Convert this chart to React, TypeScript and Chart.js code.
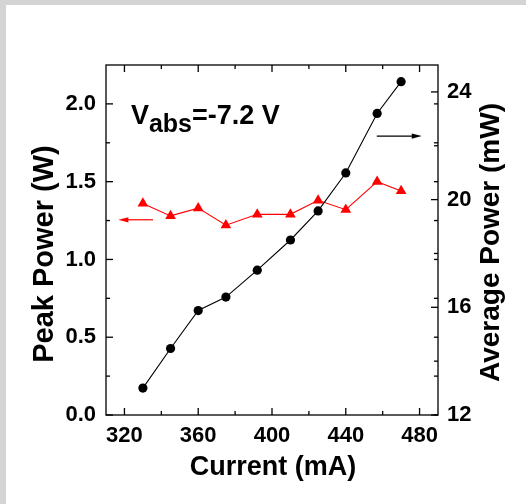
import React, { useEffect, useRef } from "react";
import { Chart, registerables } from "chart.js";

Chart.register(...registerables);

// Drive current (mA) shared by both series
const current = [330, 345, 360, 375, 392, 410, 425, 440, 457, 470];
// Peak power (W), left axis
const peakPower = [1.36, 1.28, 1.33, 1.22, 1.29, 1.29, 1.38, 1.32, 1.5, 1.44];
// Average power (mW), right axis
const averagePower = [13.0, 14.47, 15.88, 16.38, 17.38, 18.5, 19.58, 20.99, 23.2, 24.38];

// Labelled ticks and minor ticks
const currentTicks = [320, 360, 400, 440, 480];
const currentMinor = [340, 380, 420, 460];
const peakTicks = [0, 0.5, 1.0, 1.5, 2.0];
const peakMinor = [0.25, 0.75, 1.25, 1.75];
const averageTicks = [12, 16, 20, 24];
const averageMinor = [14, 18, 22];

// Arrows telling which axis each curve belongs to: [fromX, toX, level]
const peakArrow = [335.5, 316.7, 1.255];
const averageArrow = [456.8, 481.2, 22.36];
// Bias label anchor (current, peak power)
const biasLabelAt = [323.5, 1.872];

const FONT = '"Liberation Sans", Arial, Helvetica, sans-serif';

const decorations = {
  id: "decorations",
  afterDraw(chart: any) {
    const { ctx, chartArea: a, scales } = chart;
    const x = scales.x;
    const y = scales.y;
    const y2 = scales.y2;
    ctx.save();
    ctx.strokeStyle = "#000";
    ctx.lineWidth = 1.3;
    ctx.strokeRect(a.left, a.top, a.right - a.left, a.bottom - a.top);

    const seg = (x0: number, y0: number, x1: number, y1: number) => {
      ctx.beginPath();
      ctx.moveTo(x0, y0);
      ctx.lineTo(x1, y1);
      ctx.stroke();
    };
    // inward tick marks
    const MAJ = 7;
    const MIN = 4;
    currentTicks.forEach((v) => {
      const p = x.getPixelForValue(v);
      seg(p, a.bottom, p, a.bottom - MAJ);
      seg(p, a.top, p, a.top + MAJ);
    });
    currentMinor.forEach((v) => {
      const p = x.getPixelForValue(v);
      seg(p, a.bottom, p, a.bottom - MIN);
      seg(p, a.top, p, a.top + MIN);
    });
    peakTicks.forEach((v) => {
      const p = y.getPixelForValue(v);
      seg(a.left, p, a.left + MAJ, p);
      seg(a.right, p, a.right - MIN, p);
    });
    peakMinor.forEach((v) => {
      const p = y.getPixelForValue(v);
      seg(a.left, p, a.left + MIN, p);
      seg(a.right, p, a.right - MIN, p);
    });
    averageTicks.forEach((v) => {
      const p = y2.getPixelForValue(v);
      seg(a.right, p, a.right - MAJ, p);
    });
    averageMinor.forEach((v) => {
      const p = y2.getPixelForValue(v);
      seg(a.right, p, a.right - MIN, p);
    });

    // arrows
    const arrow = (x0: number, x1: number, py: number, color: string) => {
      ctx.strokeStyle = color;
      ctx.fillStyle = color;
      ctx.lineWidth = 1.2;
      const dir = Math.sign(x1 - x0);
      seg(x0, py, x1 - dir * 8, py);
      ctx.beginPath();
      ctx.moveTo(x1, py);
      ctx.lineTo(x1 - dir * 10, py - 2.6);
      ctx.lineTo(x1 - dir * 10, py + 2.6);
      ctx.closePath();
      ctx.fill();
    };
    arrow(
      x.getPixelForValue(peakArrow[0]),
      x.getPixelForValue(peakArrow[1]),
      y.getPixelForValue(peakArrow[2]),
      "#ff0000"
    );
    arrow(
      x.getPixelForValue(averageArrow[0]),
      x.getPixelForValue(averageArrow[1]),
      y2.getPixelForValue(averageArrow[2]),
      "#000000"
    );

    // bias label V_abs=-7.2 V
    ctx.fillStyle = "#000";
    ctx.textBaseline = "alphabetic";
    ctx.textAlign = "left";
    let tx = x.getPixelForValue(biasLabelAt[0]);
    const ty = y.getPixelForValue(biasLabelAt[1]);
    ctx.font = `bold 27px ${FONT}`;
    ctx.fillText("V", tx, ty);
    tx += ctx.measureText("V").width;
    ctx.font = `bold 25px ${FONT}`;
    ctx.fillText("abs", tx, ty + 8);
    tx += ctx.measureText("abs").width;
    ctx.font = `bold 27px ${FONT}`;
    ctx.fillText("=-7.2 V", tx, ty);

    // axis titles
    ctx.textAlign = "center";
    ctx.font = `bold 27px ${FONT}`;
    ctx.fillText("Current (mA)", (a.left + a.right) / 2 + 1, 475);

    ctx.save();
    ctx.translate(53, 254);
    ctx.rotate(-Math.PI / 2);
    ctx.font = `bold 29px ${FONT}`;
    ctx.fillText("Peak Power (W)", 0, 0);
    ctx.restore();

    ctx.save();
    ctx.translate(499, 242.5);
    ctx.rotate(-Math.PI / 2);
    ctx.font = `bold 28px ${FONT}`;
    ctx.fillText("Average Power (mW)", 0, 0);
    ctx.restore();

    ctx.restore();
  },
};

export default function App() {
  const ref = useRef<HTMLCanvasElement>(null);

  useEffect(() => {
    document.body.style.margin = "0";
    const canvas = ref.current!;
    const tickFont = { family: FONT, size: 22, weight: "bold" as const };
    const chart = new Chart(canvas, {
      type: "line",
      data: {
        datasets: [
          {
            label: "Average Power",
            data: current.map((c, i) => ({ x: c, y: averagePower[i] })),
            yAxisID: "y2",
            borderColor: "#000000",
            backgroundColor: "#000000",
            borderWidth: 1.1,
            pointStyle: "circle",
            pointRadius: 4.6,
            pointBorderWidth: 0,
            tension: 0,
          },
          {
            label: "Peak Power",
            data: current.map((c, i) => ({ x: c, y: peakPower[i] })),
            yAxisID: "y",
            borderColor: "#ff0000",
            backgroundColor: "#ff0000",
            borderWidth: 1.1,
            pointStyle: "triangle",
            pointRadius: 6.2,
            pointBorderWidth: 0,
            tension: 0,
          },
        ],
      },
      options: {
        animation: false,
        responsive: false,
        events: [],
        layout: { padding: { top: 65, left: 0, right: 0, bottom: 0 } },
        plugins: {
          legend: { display: false },
          tooltip: { enabled: false },
        },
        scales: {
          x: {
            type: "linear",
            min: 310,
            max: 490,
            grid: { display: false, drawTicks: false },
            border: { display: false },
            afterFit: (s: any) => {
              s.height = 89;
            },
            afterBuildTicks: (s: any) => {
              s.ticks = currentTicks.map((v) => ({ value: v }));
            },
            ticks: {
              font: tickFont,
              color: "#000",
              padding: 8,
              maxRotation: 0,
              callback: (v: any) => String(v),
            },
          },
          y: {
            type: "linear",
            position: "left",
            min: 0,
            max: 2.25,
            grid: { display: false, drawTicks: false },
            border: { display: false },
            afterFit: (s: any) => {
              s.width = 106;
            },
            afterBuildTicks: (s: any) => {
              s.ticks = peakTicks.map((v) => ({ value: v }));
            },
            ticks: {
              font: tickFont,
              color: "#000",
              padding: 10,
              callback: (v: any) => Number(v).toFixed(1),
            },
          },
          y2: {
            type: "linear",
            position: "right",
            min: 12,
            max: 25,
            grid: { display: false, drawTicks: false },
            border: { display: false },
            afterFit: (s: any) => {
              s.width = 88;
            },
            afterBuildTicks: (s: any) => {
              s.ticks = averageTicks.map((v) => ({ value: v }));
            },
            ticks: {
              font: tickFont,
              color: "#000",
              padding: 9,
              callback: (v: any) => String(v),
            },
          },
        },
      },
      plugins: [decorations],
    });
    return () => chart.destroy();
  }, []);

  return (
    <div
      style={{
        position: "relative",
        width: 526,
        height: 504,
        background: "#d4d4d4",
        overflow: "hidden",
      }}
    >
      <div
        style={{
          position: "absolute",
          left: 6,
          top: 5,
          right: 0,
          bottom: 0,
          background: "#ffffff",
        }}
      />
      <canvas
        ref={ref}
        width={526}
        height={504}
        style={{ position: "absolute", left: 0, top: 0, width: 526, height: 504 }}
      />
    </div>
  );
}
